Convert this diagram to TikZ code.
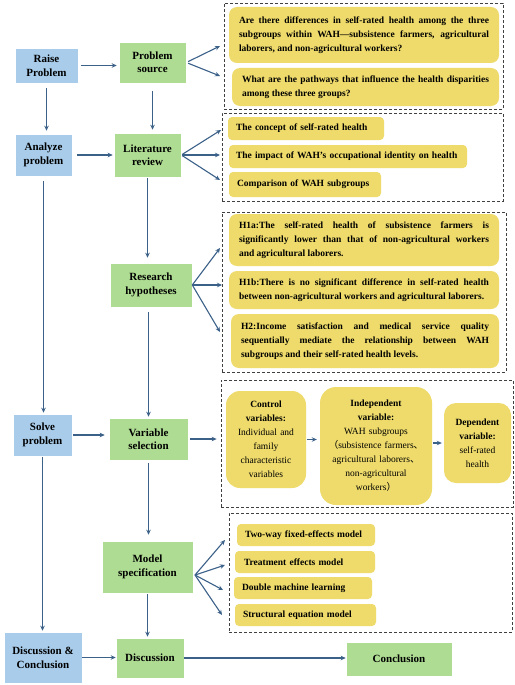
\documentclass[tikz,border=0pt]{standalone}
\usepackage{fontspec}
\setmainfont{Liberation Serif}
\newfontfamily\cjk{Noto Sans CJK SC}
\usetikzlibrary{arrows.meta}
\definecolor{bluebox}{HTML}{A8CCEA}
\definecolor{greenbox}{HTML}{AEDC92}
\definecolor{yellowbox}{HTML}{EEDB6B}
\definecolor{arrowc}{HTML}{3C6189}
\definecolor{dashc}{HTML}{404040}
\tikzset{
 main/.style={draw=white, line width=0.6pt, font=\fontsize{11}{13.5}\selectfont\bfseries, align=center, inner sep=2pt},
 bluen/.style={main, fill=bluebox},
 greenn/.style={main, fill=greenbox},
 ybox/.style={fill=yellowbox, draw=none, rounded corners=4pt, font=\fontsize{9.5}{14}\selectfont\bfseries, inner ysep=0pt},
 ypar/.style={ybox, align=justify, rounded corners=8pt},
 yline/.style={ybox, align=left},
 yvar/.style={ybox, align=center},
 dbox/.style={draw=dashc, dash pattern=on 3pt off 2pt, line width=0.8pt},
 arr/.style={draw=arrowc, line width=1.1pt, -{Stealth[length=5pt,width=4.5pt]}},
}
\begin{document}
\begin{tikzpicture}[x=1pt,y=-1pt]
\fill[white] (0,0) rectangle (514,685);
\useasboundingbox (0,0) rectangle (514,685);

% dashed group boxes
\node[dbox, minimum width=279pt, minimum height=106pt] (B1) at (363.5,56) {};
\node[dbox, minimum width=281pt, minimum height=88pt] (B2) at (362.5,157) {};
\node[dbox, minimum width=284pt, minimum height=160pt] (B3) at (364,292) {};
\node[dbox, minimum width=292pt, minimum height=127pt] (B4) at (367,443.5) {};
\node[dbox, minimum width=283pt, minimum height=119pt] (B5) at (370.5,572.5) {};

% main flow nodes
\node[bluen, minimum width=63pt, minimum height=35pt] (rp) at (46.5,65.5) {Raise\\Problem};
\node[greenn, minimum width=67pt, minimum height=41pt] (ps) at (152.5,62.5) {Problem\\source};
\node[bluen, minimum width=57pt, minimum height=42pt] (ap) at (43.5,155) {Analyze\\problem};
\node[greenn, minimum width=67pt, minimum height=44pt] (lr) at (147.5,155) {Literature\\review};
\node[greenn, minimum width=82pt, minimum height=44pt] (rh) at (151,285) {Research\\hypotheses};
\node[bluen, minimum width=59pt, minimum height=42pt] (sp) at (42.5,435) {Solve\\problem};
\node[greenn, minimum width=79pt, minimum height=42pt] (vs) at (148.5,439) {Variable\\selection};
\node[greenn, minimum width=91pt, minimum height=52pt] (ms) at (147.5,567) {Model\\specification};
\node[bluen, minimum width=78pt, minimum height=51pt] (dc) at (43,657.5) {Discussion \&\\Conclusion};
\node[greenn, minimum width=68pt, minimum height=40pt] (di) at (150,658) {Discussion};
\node[greenn, minimum width=106pt, minimum height=34pt] (co) at (399,659) {Conclusion};

% yellow items
\node[ypar, minimum width=270pt, minimum height=56pt, text width=250pt, inner xsep=10pt] (q1) at (364,35)
 {Are there differences in self-rated health among the three\linebreak subgroups within WAH—subsistence farmers, agricultural\linebreak laborers, and non-agricultural workers?};
\node[ypar, minimum width=267pt, minimum height=38pt, text width=247pt, inner xsep=10pt] (q2) at (365.5,87)
 {What are the pathways that influence the health disparities\linebreak among these three groups?};
\node[yline, minimum width=156pt, minimum height=23pt, text width=140pt, inner xsep=8pt] (l1) at (306,128.5)
 {The concept of self-rated health};
\node[yline, minimum width=238pt, minimum height=23pt, text width=230pt, inner xsep=4pt] (l2) at (348,156.5)
 {\hspace*{3pt}The impact of WAH’s occupational identity on health};
\node[yline, minimum width=152pt, minimum height=25pt, text width=136pt, inner xsep=8pt] (l3) at (305,184.5)
 {Comparison of WAH subgroups};
\node[ypar, minimum width=270pt, minimum height=52pt, text width=250pt, inner xsep=10pt] (h1) at (364,240)
 {H1a:The self-rated health of subsistence farmers is\linebreak significantly lower than that of non-agricultural workers\linebreak and agricultural laborers.};
\node[ypar, minimum width=270pt, minimum height=38pt, text width=250pt, inner xsep=10pt] (h2) at (364,290)
 {H1b:There is no significant difference in self-rated health\linebreak between non-agricultural workers and agricultural laborers.};
\node[ypar, minimum width=268pt, minimum height=54pt, text width=248pt, inner xsep=10pt] (h3) at (365,341)
 {H2:Income satisfaction and medical service quality\linebreak sequentially mediate the relationship between WAH\linebreak subgroups and their self-rated health levels.};
\node[yvar, rounded corners=14pt, minimum width=80pt, minimum height=97pt, text width=76pt, inner xsep=2pt] (cv) at (266,439.5)
 {Control\\variables:\\\mdseries Individual and\\family\\characteristic\\variables};
\node[yvar, rounded corners=16pt, minimum width=112pt, minimum height=118pt, text width=108pt, inner xsep=2pt] (iv) at (376,446)
 {Independent\\variable:\\\mdseries WAH subgroups\\{\cjk （}subsistence farmers{\cjk 、}\\agricultural laborers{\cjk 、}\\non-agricultural\\workers{\cjk ）}};
\node[yvar, rounded corners=12pt, minimum width=67pt, minimum height=80pt, text width=63pt, inner xsep=2pt] (dv) at (477.5,443)
 {Dependent\\variable:\\\mdseries self-rated\\health};
\node[yline, minimum width=138pt, minimum height=22pt, text width=122pt, inner xsep=8pt] (m1) at (306,535)
 {Two-way fixed-effects model};
\node[yline, minimum width=140pt, minimum height=22pt, text width=122pt, inner xsep=9pt] (m2) at (305,562)
 {Treatment effects model};
\node[yline, minimum width=138pt, minimum height=22pt, text width=122pt, inner xsep=8pt] (m3) at (303,588)
 {Double machine learning};
\node[yline, minimum width=141pt, minimum height=22pt, text width=125pt, inner xsep=8pt] (m4) at (305.5,615)
 {Structural equation model};

% fan end points on dashed boxes
\coordinate (e1a) at (220,46);
\coordinate (e1b) at (220,76);
\coordinate (e2a) at (221,130);
\coordinate (e2b) at (220,155);
\coordinate (e2c) at (220,180);
\coordinate (e3a) at (220,248);
\coordinate (e3b) at (222,285);
\coordinate (e3c) at (220,332);
\coordinate (msS) at (195,575);
\coordinate (e5a) at (225,540);
\coordinate (e5b) at (225,565);
\coordinate (e5c) at (223,590);
\coordinate (e5d) at (222,615);

% connectors
\draw[arr, shorten <=3pt, shorten >=2pt] (rp.east) -- (rp.east -| ps.west);
\draw[arr, shorten <=5pt, shorten >=3pt] (rp.south) -- (rp.south |- ap.north);
\draw[arr, shorten <=8pt, shorten >=3pt] (ps.south) -- (ps.south |- lr.north);
\draw[arr, shorten <=5pt, shorten >=1pt] (ap.east) -- (ap.east -| lr.west);
\draw[arr, shorten <=5pt, shorten >=1pt] (ap.south) -- (ap.south |- sp.north);
\draw[arr, shorten <=1pt, shorten >=5pt] (lr.south) -- (lr.south |- rh.north);
\draw[arr, shorten <=5pt, shorten >=1pt] (vs.north |- rh.south) -- (vs.north);
\draw[arr, shorten <=1pt, shorten >=4pt] (sp.east) -- (sp.east -| vs.west);
\draw[arr, shorten <=2pt, shorten >=4pt] (vs.east) -- (vs.east -| B4.west);
\draw[arr, shorten <=3pt, shorten >=6pt] (vs.south) -- (vs.south |- ms.north);
\draw[arr, shorten <=1pt, shorten >=1pt] (ms.south) -- (ms.south |- di.north);
\draw[arr, shorten <=1pt, shorten >=1pt] (sp.south) -- (sp.south |- dc.north);
\draw[arr] (dc.east) -- (dc.east -| di.west);
\draw[arr] (di.east) -- (di.east -| co.west);
\draw[arr, shorten <=1pt, shorten >=3pt] (cv.east) -- (cv.east -| iv.west);
\draw[arr, shorten <=1pt, shorten >=2pt] (iv.east |- dv.east) -- (dv.west);

\draw[arr, shorten <=2pt] (ps.east) -- (e1a);
\draw[arr, shorten <=2pt] (ps.east) -- (e1b);
\draw[arr, shorten <=1pt] (lr.east) -- (e2a);
\draw[arr, shorten <=1pt] (lr.east) -- (e2b);
\draw[arr, shorten <=1pt] (lr.east) -- (e2c);
\draw[arr] (rh.east) -- (e3a);
\draw[arr] (rh.east) -- (e3b);
\draw[arr] (rh.east) -- (e3c);
\draw[arr] (msS) -- (e5a);
\draw[arr] (msS) -- (e5b);
\draw[arr] (msS) -- (e5c);
\draw[arr] (msS) -- (e5d);
\end{tikzpicture}
\end{document}
